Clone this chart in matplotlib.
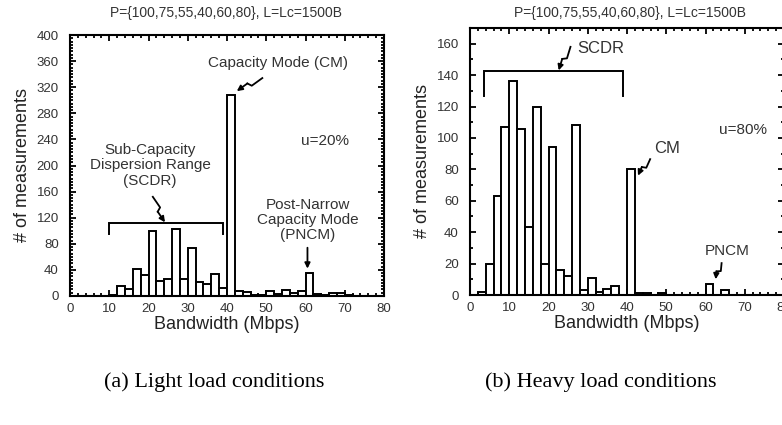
import numpy as np
import matplotlib
matplotlib.use("Agg")
import matplotlib.pyplot as plt
from matplotlib.ticker import MultipleLocator

plt.rcParams['font.family'] = ['Liberation Sans', 'DejaVu Sans']

# histogram bins: 2 Mbps wide from 0 to 80
bin_edges = list(range(0, 82, 2))

# (a) light load, u=20%
light_counts = [0, 0, 0, 0, 0, 2, 16, 10, 41, 32,
                100, 23, 26, 102, 26, 74, 22, 18, 34, 13,
                308, 7, 6, 2, 2, 7, 3, 9, 5, 7,
                35, 3, 2, 4, 4, 1, 0, 0, 0, 0]

# (b) heavy load, u=80%
heavy_counts = [0, 2, 20, 63, 107, 136, 106, 43, 120, 20,
                94, 16, 12, 108, 3, 11, 2, 4, 6, 0,
                80, 1, 1, 0, 1, 0, 0, 0, 0, 0,
                7, 0, 3, 0, 0, 0, 0, 0, 0, 0]

title_text = "P={100,75,55,40,60,80}, L=Lc=1500B"
captions = ["(a) Light load conditions", "(b) Heavy load conditions"]

W, H = 782, 425
fig = plt.figure(figsize=(W / 100, H / 100), dpi=100)

def px_axes(x0, y0, x1, y1):
    # axes from pixel box (top-left origin)
    return fig.add_axes([x0 / W, 1 - y1 / H, (x1 - x0) / W, (y1 - y0) / H])

ax1 = px_axes(70, 35, 384, 296)
ax2 = px_axes(470, 28, 784, 295)

ann_color = '#333333'
ann_size = 11


def style_axes(ax, ymax, ymajor, yminor):
    ax.set_xlim(0, 80)
    ax.set_ylim(0, ymax)
    ax.xaxis.set_major_locator(MultipleLocator(10))
    ax.xaxis.set_minor_locator(MultipleLocator(2))
    ax.yaxis.set_major_locator(MultipleLocator(ymajor))
    ax.yaxis.set_minor_locator(MultipleLocator(yminor))
    ax.tick_params(which='both', direction='in', top=True, right=True,
                   width=1.3, labelsize=9.5, colors='black', labelcolor='#333333')
    ax.tick_params(which='major', length=4)
    ax.tick_params(which='minor', length=2)
    ax.tick_params(axis='x', pad=5)
    ax.tick_params(axis='y', pad=8)
    for sp in ax.spines.values():
        sp.set_linewidth(1.5)
    ax.set_xlabel("Bandwidth (Mbps)", fontsize=13, color='#222222', labelpad=1)
    ax.set_ylabel("# of measurements", fontsize=13, color='#222222', labelpad=4)


def draw_hist(ax, counts):
    ax.bar(bin_edges[:-1], counts, width=2, align='edge', color='white',
           edgecolor='black', linewidth=1.4, zorder=2)


def bracket(ax, x0, x1, y, ydrop):
    ax.plot([x0, x0, x1, x1], [ydrop, y, y, ydrop], color='black', lw=1.4,
            solid_joinstyle='miter', zorder=3)


def zigzag_arrow(ax, start, end, kink=2.0):
    # lightning-style arrow: small zigzag in the middle, head at the end
    to_px = ax.transData
    p0 = np.array(to_px.transform(start))
    p1 = np.array(to_px.transform(end))
    d = p1 - p0
    n = np.array([-d[1], d[0]]) / np.hypot(*d)
    pa = p0 + 0.45 * d + kink * n
    pb = p0 + 0.55 * d - kink * n
    inv = to_px.inverted()
    xs, ys = zip(*inv.transform([p0, pa, pb]))
    ax.plot(xs, ys, color='black', lw=1.3, zorder=4)
    ax.annotate("", xy=end, xytext=tuple(inv.transform(pb)),
                arrowprops=dict(arrowstyle='-|>', color='black', lw=1.3,
                                mutation_scale=8, shrinkA=0, shrinkB=0), zorder=4)


# ---- (a) light load
draw_hist(ax1, light_counts)
style_axes(ax1, 400, 40, 5)

ax1.text(53, 357, "Capacity Mode (CM)", ha='center', va='center',
         fontsize=ann_size, color=ann_color)
zigzag_arrow(ax1, (49, 334), (42.5, 314))
ax1.text(65, 237, "u=20%", ha='center', va='center', fontsize=ann_size, color=ann_color)
ax1.text(20.4, 200, "Sub-Capacity\nDispersion Range\n(SCDR)", ha='center', va='center',
         fontsize=ann_size, color=ann_color, linespacing=1.1)
zigzag_arrow(ax1, (21.1, 152), (24.2, 113))
bracket(ax1, 10, 39, 112, 95)
ax1.text(60.6, 116, "Post-Narrow\nCapacity Mode\n(PNCM)", ha='center', va='center',
         fontsize=ann_size, color=ann_color, linespacing=1.1)
ax1.annotate("", xy=(60.5, 42), xytext=(60.5, 74),
             arrowprops=dict(arrowstyle='-|>', color='black', lw=1.3,
                             mutation_scale=8, shrinkA=0, shrinkB=0))

# ---- (b) heavy load
draw_hist(ax2, heavy_counts)
style_axes(ax2, 170, 20, 10)

ax2.text(27.3, 157, "SCDR", ha='left', va='center', fontsize=ann_size + 1, color=ann_color)
zigzag_arrow(ax2, (25.6, 158), (22.6, 143))
bracket(ax2, 3.5, 39, 142.6, 127)
ax2.text(69.5, 105, "u=80%", ha='center', va='center', fontsize=ann_size, color=ann_color)
ax2.text(50.3, 93, "CM", ha='center', va='center', fontsize=ann_size + 1, color=ann_color)
zigzag_arrow(ax2, (45.9, 86.5), (42.8, 76))
ax2.text(65.6, 28, "PNCM", ha='center', va='center', fontsize=ann_size, color=ann_color)
zigzag_arrow(ax2, (64.1, 20.3), (62.6, 10))

# titles and captions
for cx, cap_x, cap in [(226, 214, captions[0]), (630, 601, captions[1])]:
    fig.text(cx / W, 1 - 13 / H, title_text, ha='center', va='center',
             fontsize=10, color='#333333')
    fig.text(cap_x / W, 1 - 382 / H, cap, ha='center', va='center', fontsize=16,
             family=['Liberation Serif', 'DejaVu Serif'])

fig.savefig("out.png", dpi=100)
